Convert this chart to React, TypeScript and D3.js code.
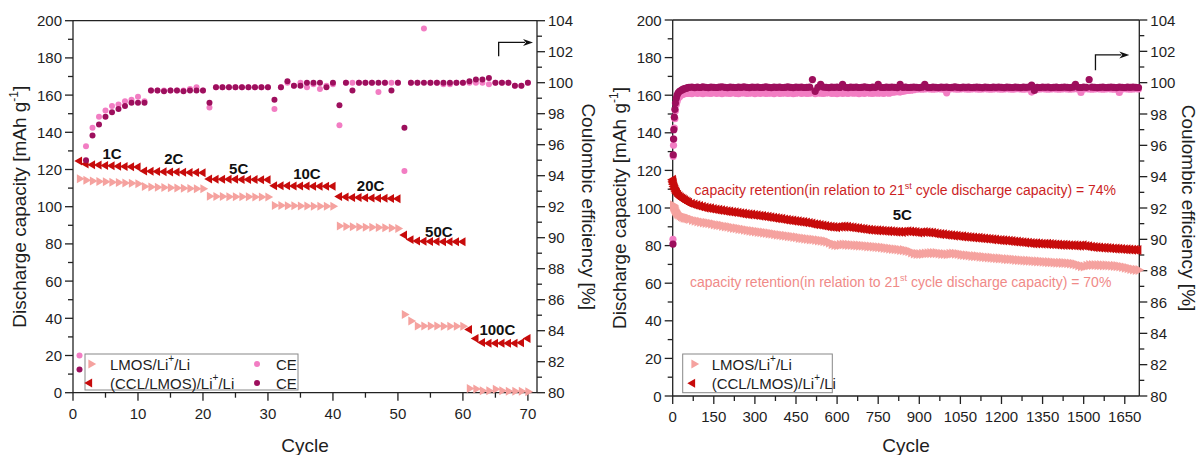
import React from 'react';
import * as d3 from 'd3';

// ---------- rate-capability test (left panel) ----------
const leftCycles = d3.range(1, 71);

const lmosRate = [
  115.0, 114.2, 113.8, 113.6, 113.4, 113.2, 113.0, 112.8, 112.6, 112.4,
  110.8, 110.6, 110.4, 110.3, 110.2, 110.0, 109.9, 109.8, 109.7, 109.6,
  105.6, 105.5, 105.5, 105.4, 105.4, 105.3, 105.3, 105.2, 105.2, 105.2,
  100.6, 100.6, 100.5, 100.5, 100.4, 100.4, 100.3, 100.3, 100.2, 100.2,
  89.6, 89.4, 89.2, 89.1, 89.0, 88.9, 88.8, 88.7, 88.5, 88.3,
  42.1, 38.5, 35.9, 35.8, 35.8, 35.8, 35.7, 35.7, 35.7, 35.7,
  2.2, 2.0, 1.0, 1.0, 1.8, 1.0, 0.8, 0.8, 0.8, 0.5,
];

const cclRate = [
  124.6, 123.0, 122.6, 122.4, 122.2, 122.0, 121.8, 121.6, 121.5, 121.3,
  119.2, 119.0, 118.9, 118.8, 118.7, 118.6, 118.5, 118.4, 118.4, 118.3,
  114.9, 114.8, 114.8, 114.7, 114.7, 114.6, 114.6, 114.6, 114.5, 114.5,
  111.3, 111.2, 111.2, 111.1, 111.1, 111.1, 111.0, 111.0, 111.0, 111.0,
  105.5, 105.2, 105.0, 104.9, 104.8, 104.7, 104.6, 104.5, 104.4, 104.3,
  84.8, 82.3, 81.5, 81.4, 81.3, 81.3, 81.2, 81.2, 81.2, 81.2,
  34.0, 29.2, 27.0, 26.6, 26.6, 26.6, 26.6, 26.6, 26.8, 29.2,
];

const ceLmosRate = [
  82.4, 95.9, 97.1, 97.8, 98.2, 98.5, 98.6, 98.8, 98.9, 99.1,
  98.8, 99.5, 99.5, 99.5, 99.5, 99.5, 99.5, 99.6, 99.7, 99.5,
  98.4, 99.7, 99.7, 99.7, 99.7, 99.7, 99.7, 99.7, 99.7, 99.7,
  98.3, 99.7, 100.0, 99.8, 100.0, 99.7, 99.9, 99.6, 99.8, 99.9,
  97.25, 100.0, 100.0, 100.0, 100.0, 100.0, 99.4, 100.0, 100.0, 100.0,
  94.3, 100.0, 100.0, 103.5, 100.0, 100.0, 99.9, 99.9, 100.0, 100.0,
  100.0, 100.0, 100.0, 99.9, 100.0, 100.0, 100.0, 99.8, 99.8, 100.0,
];

const ceCclRate = [
  81.5, 95.0, 96.6, 97.3, 97.8, 98.1, 98.3, 98.5, 98.7, 98.7,
  98.7, 99.5, 99.5, 99.45, 99.5, 99.5, 99.45, 99.5, 99.5, 99.5,
  98.7, 99.7, 99.7, 99.7, 99.7, 99.7, 99.7, 99.7, 99.7, 99.7,
  98.9, 99.7, 100.1, 99.8, 99.8, 100.0, 100.0, 100.0, 99.7, 100.0,
  98.55, 100.0, 99.5, 100.0, 100.0, 100.0, 100.0, 100.0, 99.5, 100.0,
  97.1, 100.0, 100.0, 100.0, 100.0, 100.0, 100.0, 100.0, 100.0, 100.0,
  100.1, 100.2, 100.2, 100.3, 100.0, 100.0, 100.0, 99.8, 99.8, 100.0,
];

const rateLabels = ['1C', '2C', '5C', '10C', '20C', '50C', '100C'];

// ---------- long-term cycling at 5C (right panel) ----------
const longCycles = [1, 2, 3, 4, 6, 8, 10, 13, 16, 20, 25, 30, 35, 40, 45, 50, 55].concat(d3.range(60, 1701, 10));

const cclLong = [
  115.0, 114.2, 113.4, 112.6, 111.4, 110.5, 109.7, 108.7, 107.9, 107.0, 106.2, 105.6, 105.0, 104.6, 104.1, 103.6, 103.2,
  102.8, 102.3, 101.8, 101.4, 101.0, 100.6, 100.2, 100.0, 99.8, 99.5,
  99.2, 99.0, 98.8, 98.5, 98.3, 98.1, 97.9, 97.7, 97.5, 97.2,
  97.0, 96.8, 96.6, 96.5, 96.3, 96.1, 95.9, 95.7, 95.5, 95.3,
  95.1, 94.8, 94.6, 94.4, 94.2, 93.9, 93.7, 93.5, 93.3, 93.1,
  92.9, 92.7, 92.5, 92.3, 92.0, 91.7, 91.4, 91.2, 91.0, 90.7,
  90.4, 90.2, 90.0, 89.9, 89.8, 90.0, 90.1, 90.1, 90.0, 89.8,
  89.6, 89.4, 89.2, 89.0, 88.8, 88.6, 88.4, 88.3, 88.2, 88.1,
  88.0, 87.9, 87.8, 87.7, 87.6, 87.5, 87.4, 87.4, 87.3, 87.5,
  87.6, 87.5, 87.4, 87.2, 87.0, 87.1, 87.2, 87.1, 87.0, 86.8,
  86.5, 86.3, 86.1, 86.0, 85.8, 85.6, 85.5, 85.3, 85.2, 85.0,
  84.9, 84.7, 84.6, 84.4, 84.3, 84.2, 84.1, 83.9, 83.8, 83.6,
  83.5, 83.3, 83.2, 83.0, 82.9, 82.8, 82.7, 82.5, 82.4, 82.2,
  82.1, 81.9, 81.8, 81.6, 81.5, 81.3, 81.2, 81.2, 81.1, 81.0,
  81.0, 80.9, 80.8, 80.7, 80.6, 80.5, 80.4, 80.4, 80.3, 80.2,
  80.2, 80.1, 80.0, 80.0, 80.1, 79.8, 79.6, 79.4, 79.2, 79.1,
  79.0, 78.9, 78.8, 78.7, 78.6, 78.5, 78.4, 78.3, 78.2, 78.1,
  78.0, 77.9, 77.8, 77.8, 77.7,
];

const lmosLong = [
  101.5, 101.0, 100.5, 100.0, 99.3, 98.7, 98.2, 97.5, 97.0, 96.5, 96.0, 95.6, 95.2, 94.9, 94.8, 94.6, 94.4,
  94.2, 93.7, 93.2, 92.9, 92.6, 92.3, 92.1, 91.9, 91.6, 91.3,
  91.0, 90.8, 90.5, 90.2, 90.0, 89.7, 89.4, 89.2, 88.9, 88.7,
  88.4, 88.2, 87.9, 87.7, 87.5, 87.3, 87.1, 86.9, 86.7, 86.5,
  86.3, 86.0, 85.8, 85.6, 85.4, 85.2, 85.0, 84.8, 84.6, 84.4,
  84.1, 83.9, 83.7, 83.5, 83.3, 83.2, 83.0, 82.8, 82.6, 82.4,
  82.1, 81.6, 80.8, 80.4, 80.2, 80.4, 80.6, 80.5, 80.4, 80.3,
  80.2, 80.1, 80.0, 79.9, 79.8, 79.6, 79.5, 79.4, 79.3, 79.1,
  79.0, 78.8, 78.6, 78.4, 78.2, 78.1, 77.9, 77.7, 77.6, 77.3,
  77.0, 76.4, 75.8, 75.6, 75.5, 75.6, 75.8, 75.9, 76.0, 76.0,
  76.0, 75.8, 75.6, 75.5, 75.4, 75.6, 75.8, 75.7, 75.5, 75.2,
  75.0, 74.9, 74.7, 74.5, 74.4, 74.3, 74.1, 74.0, 73.8, 73.7,
  73.6, 73.4, 73.3, 73.2, 73.1, 72.9, 72.8, 72.7, 72.6, 72.4,
  72.3, 72.2, 72.1, 72.0, 71.9, 71.8, 71.7, 71.6, 71.5, 71.4,
  71.3, 71.2, 71.1, 71.0, 70.9, 70.9, 70.8, 70.7, 70.6, 70.5,
  70.3, 70.0, 69.5, 69.1, 68.9, 69.3, 69.6, 69.7, 69.7, 69.6,
  69.6, 69.5, 69.5, 69.4, 69.3, 69.2, 69.1, 68.9, 68.6, 68.3,
  68.0, 67.6, 67.3, 67.1, 67.0,
];

const ceCclLong = [
  89.7, 95.4, 96.4, 97.0, 97.8, 98.3, 98.7, 99.0, 99.2, 99.35, 99.45, 99.5, 99.55, 99.6, 99.62, 99.65, 99.68,
  99.70, 99.72, 99.68, 99.71, 99.69, 99.73, 99.70, 99.68, 99.72, 99.70,
  99.69, 99.71, 99.74, 99.70, 99.68, 99.72, 99.70, 99.69, 99.71, 99.70,
  99.73, 99.70, 99.68, 99.71, 99.70, 99.72, 99.69, 99.70, 99.74, 99.70,
  99.68, 99.71, 99.70, 99.72, 99.69, 99.70, 99.73, 99.70, 99.68, 99.71,
  99.70, 99.72, 99.69, 99.70, 99.71, 100.20, 99.45, 99.70, 99.90, 99.72,
  99.70, 99.68, 99.71, 99.70, 99.72, 99.69, 99.90, 99.70, 99.68, 99.71,
  99.70, 99.72, 99.69, 99.70, 99.73, 99.70, 99.68, 99.71, 99.70, 99.90,
  99.70, 99.69, 99.71, 99.70, 99.72, 99.70, 99.68, 99.90, 99.70, 99.71,
  99.69, 99.70, 99.72, 99.70, 99.68, 99.71, 99.90, 99.70, 99.69, 99.72,
  99.70, 99.68, 99.71, 99.70, 99.72, 99.69, 99.70, 99.73, 99.70, 99.68,
  99.71, 99.70, 99.72, 99.69, 99.70, 99.71, 99.70, 99.68, 99.72, 99.70,
  99.69, 99.71, 99.70, 99.72, 99.70, 99.68, 99.71, 99.70, 99.69, 99.72,
  99.70, 99.68, 99.71, 99.70, 99.72, 99.85, 99.50, 99.70, 99.69, 99.71,
  99.70, 99.72, 99.68, 99.70, 99.71, 99.69, 99.70, 99.72, 99.70, 99.68,
  99.71, 99.90, 99.70, 99.69, 99.72, 99.70, 100.20, 99.71, 99.70, 99.68,
  99.70, 99.72, 99.69, 99.70, 99.71, 99.70, 99.68, 99.72, 99.70, 99.69,
  99.71, 99.70, 99.72, 99.70, 99.69,
];

const ceLmosLong = [
  90.0, 95.3, 96.0, 96.4, 97.1, 97.7, 98.2, 98.6, 98.8, 99.0, 99.1, 99.2, 99.25, 99.28, 99.3, 99.32, 99.33,
  99.33, 99.30, 99.36, 99.32, 99.34, 99.30, 99.35, 99.33, 99.31, 99.36,
  99.32, 99.34, 99.30, 99.35, 99.33, 99.31, 99.36, 99.32, 99.30, 99.34,
  99.35, 99.31, 99.33, 99.36, 99.30, 99.34, 99.32, 99.35, 99.31, 99.33,
  99.34, 99.30, 99.36, 99.32, 99.33, 99.35, 99.31, 99.34, 99.30, 99.33,
  99.36, 99.32, 99.34, 99.31, 99.33, 99.50, 99.30, 99.35, 99.33, 99.31,
  99.34, 99.36, 99.32, 99.33, 99.30, 99.35, 99.32, 99.34, 99.31, 99.36,
  99.33, 99.35, 99.30, 99.34, 99.32, 99.36, 99.33, 99.31, 99.35, 99.33,
  99.34, 99.32, 99.36, 99.33, 99.38, 99.40, 99.42, 99.40, 99.45, 99.48,
  99.50, 99.52, 99.55, 99.58, 99.60, 99.58, 99.60, 99.62, 99.60, 99.58,
  99.60, 99.62, 99.60, 99.58, 99.35, 99.60, 99.62, 99.60, 99.58, 99.60,
  99.62, 99.60, 99.58, 99.60, 99.62, 99.60, 99.58, 99.60, 99.62, 99.60,
  99.58, 99.60, 99.62, 99.60, 99.58, 99.60, 99.62, 99.60, 99.58, 99.60,
  99.62, 99.60, 99.58, 99.60, 99.62, 99.40, 99.60, 99.58, 99.60, 99.62,
  99.60, 99.58, 99.60, 99.62, 99.60, 99.58, 99.60, 99.62, 99.60, 99.58,
  99.60, 99.62, 99.60, 99.38, 99.60, 99.62, 99.60, 99.58, 99.60, 99.62,
  99.60, 99.58, 99.60, 99.62, 99.60, 99.58, 99.60, 99.38, 99.60, 99.62,
  99.60, 99.58, 99.60, 99.62, 99.60,
];

// ---------- ticks ----------
const rateXTicks = [0, 10, 20, 30, 40, 50, 60, 70];
const rateXMinor = [5, 15, 25, 35, 45, 55, 65];
const longXTicks = [0, 150, 300, 450, 600, 750, 900, 1050, 1200, 1350, 1500, 1650];
const longXMinor = [75, 225, 375, 525, 675, 825, 975, 1125, 1275, 1425, 1575];
const capTicks = [0, 20, 40, 60, 80, 100, 120, 140, 160, 180, 200];
const capMinor = [10, 30, 50, 70, 90, 110, 130, 150, 170, 190];
const ceTicks = [80, 82, 84, 86, 88, 90, 92, 94, 96, 98, 100, 102, 104];
const ceMinor = [81, 83, 85, 87, 89, 91, 93, 95, 97, 99, 101, 103];

const FONT = '"Liberation Sans", Arial, Helvetica, sans-serif';
const C_LMOS = '#f5a29f';
const C_CCL = '#c70b0b';
const C_CE_LMOS = '#f27dc3';
const C_CE_CCL = '#9d0f5d';
const INK = '#1e1e1e';

type Scale = d3.ScaleLinear<number, number>;

function tri(size: number) {
  return d3.symbol(d3.symbolTriangle, size)() || '';
}

function Axes(props: {
  x: Scale; yC: Scale; yE: Scale;
  xTicks: number[]; xMinor: number[];
  leftTitleX: number; rightTitleX: number;
}) {
  const { x, yC, yE, xTicks, xMinor, leftTitleX, rightTitleX } = props;
  const [x0, x1] = x.range();
  const [yb, yt] = yC.range();
  const yMid = (yb + yt) / 2;
  const xMid = (x0 + x1) / 2;
  const stroke = { stroke: '#222', strokeWidth: 1.3 };
  return (
    <g>
      {/* frame */}
      <line x1={x0} x2={x1} y1={yt} y2={yt} {...stroke} />
      <line x1={x0} x2={x1} y1={yb} y2={yb} {...stroke} />
      <line x1={x0} x2={x0} y1={yt} y2={yb} {...stroke} />
      <line x1={x1} x2={x1} y1={yt} y2={yb} {...stroke} />
      {/* capacity axis */}
      {capTicks.map((t) => (
        <g key={'c' + t}>
          <line x1={x0 - 8} x2={x0} y1={yC(t)} y2={yC(t)} {...stroke} />
          <text x={x0 - 11} y={yC(t)} textAnchor="end" dominantBaseline="central" fontSize={15} fill={INK}>{t}</text>
        </g>
      ))}
      {capMinor.map((t) => (
        <line key={'cm' + t} x1={x0 - 5} x2={x0} y1={yC(t)} y2={yC(t)} {...stroke} />
      ))}
      {/* efficiency axis */}
      {ceTicks.map((t) => (
        <g key={'e' + t}>
          <line x1={x1} x2={x1 + 8} y1={yE(t)} y2={yE(t)} {...stroke} />
          <text x={x1 + 11} y={yE(t)} textAnchor="start" dominantBaseline="central" fontSize={15} fill={INK}>{t}</text>
        </g>
      ))}
      {ceMinor.map((t) => (
        <line key={'em' + t} x1={x1} x2={x1 + 5} y1={yE(t)} y2={yE(t)} {...stroke} />
      ))}
      {/* cycle axis */}
      {xTicks.map((t) => (
        <g key={'x' + t}>
          <line x1={x(t)} x2={x(t)} y1={yb} y2={yb + 8} {...stroke} />
          <text x={x(t)} y={yb + 26} textAnchor="middle" fontSize={15} fill={INK}>{t}</text>
        </g>
      ))}
      {xMinor.map((t) => (
        <line key={'xm' + t} x1={x(t)} x2={x(t)} y1={yb} y2={yb + 5} {...stroke} />
      ))}
      {/* titles */}
      <text x={xMid} y={451.5} textAnchor="middle" fontSize={19} fill={INK}>Cycle</text>
      <text transform={`translate(${leftTitleX},${yMid}) rotate(-90)`} textAnchor="middle" fontSize={19} fill={INK}>
        Discharge capacity [mAh g<tspan fontSize={12} dy={-8}>-1</tspan><tspan dy={8}>]</tspan>
      </text>
      <text transform={`translate(${rightTitleX},${yMid}) rotate(90)`} textAnchor="middle" fontSize={19} fill={INK}>
        Coulombic efficiency [%]
      </text>
    </g>
  );
}

function Arrow(props: { x0: number; y0: number; y1: number; x1: number }) {
  const { x0, y0, y1, x1 } = props;
  return (
    <g>
      <path d={`M${x0},${y0}V${y1}H${x1 - 8}`} fill="none" stroke="#111" strokeWidth={1.3} />
      <path d={`M${x1},${y1}L${x1 - 10},${y1 - 3.5}L${x1 - 7},${y1}L${x1 - 10},${y1 + 3.5}Z`} fill="#111" />
    </g>
  );
}

function LegendRow(props: { x: number; y: number; shape: 'right' | 'left' | 'dot'; color: string; size: number; children: React.ReactNode; tx: number }) {
  const { x, y, shape, color, size, children, tx } = props;
  let mark;
  if (shape === 'dot') mark = <circle cx={x} cy={y} r={3} fill={color} />;
  else mark = <path d={tri(size)} transform={`translate(${x},${y}) rotate(${shape === 'right' ? 90 : -90})`} fill={color} />;
  return (
    <g>
      {mark}
      <text x={tx} y={y} dominantBaseline="central" fontSize={15} fill={INK}>{children}</text>
    </g>
  );
}

function RatePanel() {
  const x = d3.scaleLinear().domain([0, 71.4]).range([73, 537]);
  const yC = d3.scaleLinear().domain([0, 200]).range([392.7, 20.7]);
  const yE = d3.scaleLinear().domain([80, 104]).range([392.7, 20.7]);
  const triPath = tri(35);
  // where each C-rate label sits, in (cycle, capacity) units
  const labelAt: [number, number][] = [[6, 128.7], [15.5, 125.8], [25.5, 120.6], [36, 117.6], [45.8, 111.2], [56.3, 86.6], [65.3, 34.2]];
  return (
    <g>
      <Axes x={x} yC={yC} yE={yE} xTicks={rateXTicks} xMinor={rateXMinor} leftTitleX={26} rightTitleX={581.5} />
      {leftCycles.map((c, i) => (
        <path key={'l' + c} d={triPath} transform={`translate(${x(c)},${yC(lmosRate[i])}) rotate(90)`} fill={C_LMOS} />
      ))}
      {leftCycles.map((c, i) => (
        <path key={'d' + c} d={triPath} transform={`translate(${x(c)},${yC(cclRate[i])}) rotate(-90)`} fill={C_CCL} />
      ))}
      {leftCycles.map((c, i) => (
        <circle key={'el' + c} cx={x(c)} cy={yE(ceLmosRate[i])} r={3} fill={C_CE_LMOS} />
      ))}
      {leftCycles.map((c, i) => (
        <circle key={'ed' + c} cx={x(c)} cy={yE(ceCclRate[i])} r={3} fill={C_CE_CCL} />
      ))}
      {rateLabels.map((t, i) => (
        <text key={t} x={x(labelAt[i][0])} y={yC(labelAt[i][1])} textAnchor="middle" dominantBaseline="central" fontSize={15} fontWeight="bold" fill="#111">{t}</text>
      ))}
      <Arrow x0={x(65.5)} y0={yE(101.7)} y1={yE(102.6)} x1={533} />
      <rect x={85} y={354} width={213} height={36} fill="#fff" stroke="#888" strokeWidth={1} />
      <LegendRow x={91} y={364} shape="right" color={C_LMOS} size={35} tx={110}>
        LMOS/Li<tspan fontSize={10} dy={-6}>+</tspan><tspan dy={6}>/Li</tspan>
      </LegendRow>
      <LegendRow x={89.5} y={383} shape="left" color={C_CCL} size={35} tx={110}>
        (CCL/LMOS)/Li<tspan fontSize={10} dy={-6}>+</tspan><tspan dy={6}>/Li</tspan>
      </LegendRow>
      <LegendRow x={257} y={364} shape="dot" color={C_CE_LMOS} size={0} tx={276}>CE</LegendRow>
      <LegendRow x={257} y={383} shape="dot" color={C_CE_CCL} size={0} tx={276}>CE</LegendRow>
    </g>
  );
}

function LongPanel() {
  const x = d3.scaleLinear().domain([0, 1703]).range([672.7, 1139.3]);
  const yC = d3.scaleLinear().domain([0, 200]).range([396, 20]);
  const yE = d3.scaleLinear().domain([80, 104]).range([396, 20]);
  const triPath = tri(44);
  return (
    <g>
      <Axes x={x} yC={yC} yE={yE} xTicks={longXTicks} xMinor={longXMinor} leftTitleX={626} rightTitleX={1182} />
      {longCycles.map((c, i) => (
        <path key={'l' + c} d={triPath} transform={`translate(${x(c)},${yC(lmosLong[i])}) rotate(90)`} fill={C_LMOS} />
      ))}
      {longCycles.map((c, i) => (
        <path key={'d' + c} d={triPath} transform={`translate(${x(c)},${yC(cclLong[i])}) rotate(-90)`} fill={C_CCL} />
      ))}
      {longCycles.map((c, i) => (
        <circle key={'el' + c} cx={x(c)} cy={yE(ceLmosLong[i])} r={3.6} fill={C_CE_LMOS} />
      ))}
      {longCycles.map((c, i) => (
        <circle key={'ed' + c} cx={x(c)} cy={yE(ceCclLong[i])} r={3.6} fill={C_CE_CCL} />
      ))}
      <text x={x(80)} y={yC(106.9)} fontSize={14} fill="#cc1f1f">
        capacity retention(in relation to 21<tspan fontSize={9} dy={-6}>st</tspan><tspan dy={6}> cycle discharge capacity) = 74%</tspan>
      </text>
      <text x={x(63)} y={yC(58.2)} fontSize={14} fill="#f08a88">
        capacity retention(in relation to 21<tspan fontSize={9} dy={-6}>st</tspan><tspan dy={6}> cycle discharge capacity) = 70%</tspan>
      </text>
      <text x={x(838)} y={yC(96.3)} textAnchor="middle" dominantBaseline="central" fontSize={15} fontWeight="bold" fill="#111">5C</text>
      <Arrow x0={x(1543)} y0={yE(100.8)} y1={yE(101.77)} x1={1129.3} />
      <rect x={682.7} y={354} width={149.6} height={38.7} fill="#fff" stroke="#888" strokeWidth={1} />
      <LegendRow x={694} y={364} shape="right" color={C_LMOS} size={35} tx={711.7}>
        LMOS/Li<tspan fontSize={10} dy={-6}>+</tspan><tspan dy={6}>/Li</tspan>
      </LegendRow>
      <LegendRow x={692.5} y={383.3} shape="left" color={C_CCL} size={35} tx={711.7}>
        (CCL/LMOS)/Li<tspan fontSize={10} dy={-6}>+</tspan><tspan dy={6}>/Li</tspan>
      </LegendRow>
    </g>
  );
}

export default function App() {
  return (
    <svg width={1200} height={455} fontFamily={FONT} style={{ position: 'absolute', left: 0, top: 0, display: 'block' }}>
      <rect width={1200} height={455} fill="#fff" />
      <RatePanel />
      <LongPanel />
    </svg>
  );
}
